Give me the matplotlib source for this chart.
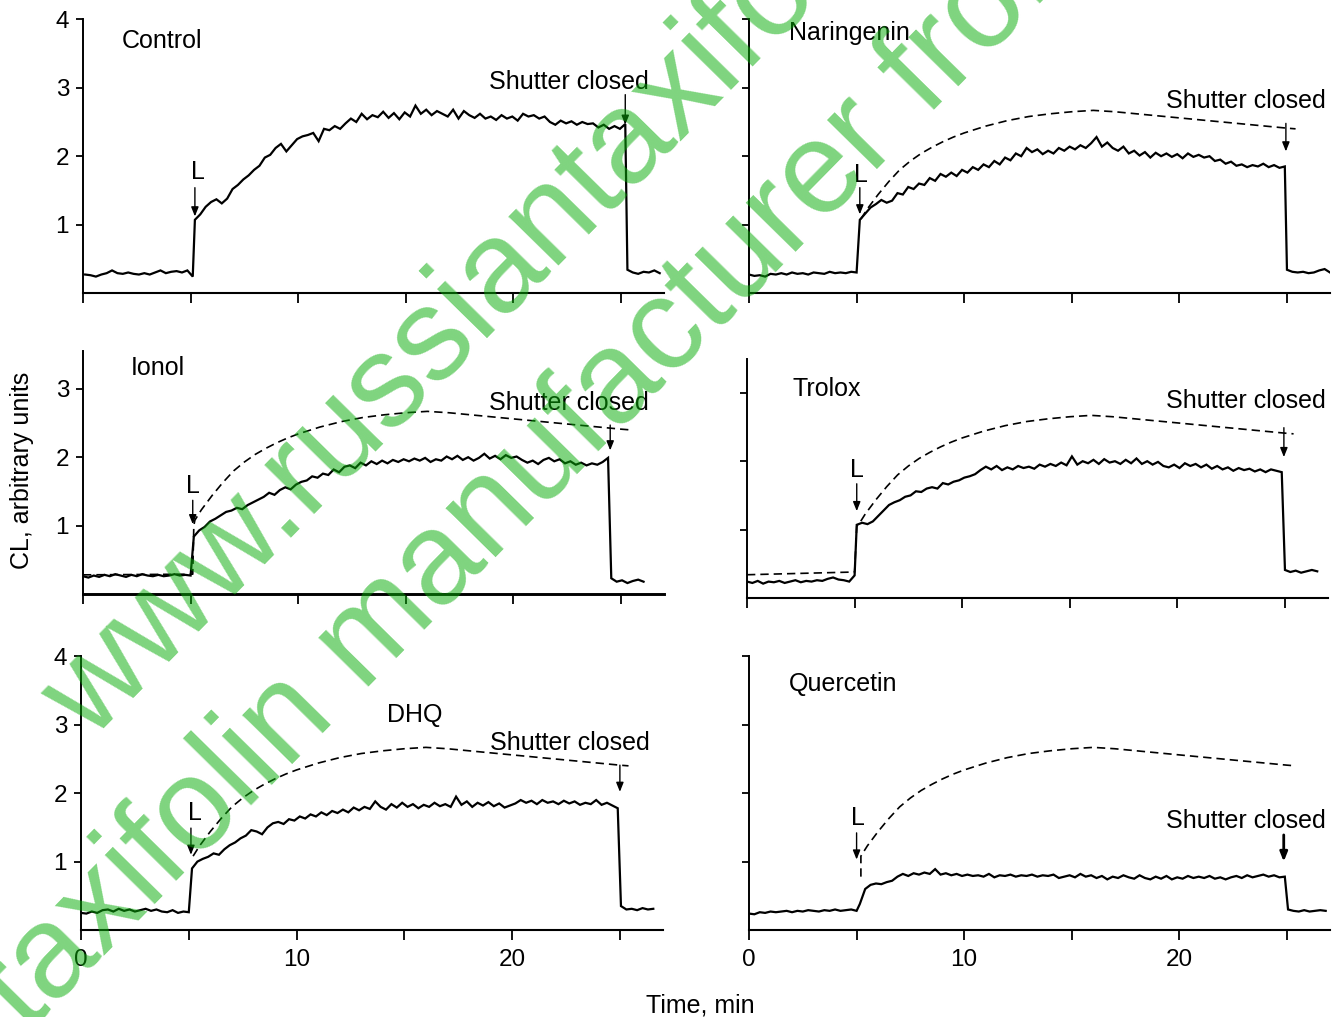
import numpy as np
import matplotlib
matplotlib.use("Agg")
import matplotlib.pyplot as plt

plt.rcParams['font.family'] = ['Liberation Sans', 'DejaVu Sans']

STEP = 0.25  # sampling interval of the read-off traces, min

# ---------------- data (CL, arbitrary units) ----------------
CONTROL_PRE = [0.27, 0.26, 0.24, 0.27, 0.29, 0.33, 0.29, 0.28, 0.30, 0.28, 0.27,
               0.29, 0.27, 0.30, 0.33, 0.29, 0.31, 0.32, 0.30, 0.33, 0.24]
CONTROL_ON = [1.07, 1.15, 1.26, 1.33, 1.37, 1.31, 1.38, 1.52, 1.58, 1.66, 1.72, 1.80,
              1.86, 1.98, 2.02, 2.12, 2.18, 2.07, 2.16, 2.25, 2.29, 2.31, 2.34, 2.22,
              2.40, 2.38, 2.44, 2.40, 2.48, 2.55, 2.50, 2.62, 2.54, 2.60, 2.57, 2.65,
              2.56, 2.63, 2.54, 2.64, 2.58, 2.74, 2.62, 2.68, 2.60, 2.66, 2.62, 2.58,
              2.68, 2.55, 2.66, 2.60, 2.56, 2.62, 2.55, 2.58, 2.53, 2.60, 2.55, 2.58,
              2.52, 2.62, 2.58, 2.60, 2.55, 2.58, 2.50, 2.46, 2.52, 2.48, 2.51, 2.46,
              2.50, 2.47, 2.48, 2.42, 2.46, 2.40, 2.44, 2.40, 2.47]
CONTROL_POST = [0.34, 0.30, 0.28, 0.31, 0.30, 0.33, 0.29]

NARINGENIN_PRE = [0.27, 0.25, 0.26, 0.24, 0.28, 0.27, 0.29, 0.27, 0.30, 0.28, 0.29,
                  0.27, 0.30, 0.29, 0.28, 0.31, 0.29, 0.30, 0.29, 0.31, 0.30]
NARINGENIN_ON = [1.07, 1.16, 1.25, 1.30, 1.36, 1.32, 1.35, 1.46, 1.44, 1.55, 1.52, 1.60,
                 1.58, 1.68, 1.64, 1.74, 1.70, 1.76, 1.71, 1.80, 1.76, 1.84, 1.80, 1.88,
                 1.84, 1.93, 1.88, 1.98, 1.94, 2.04, 2.00, 2.12, 2.06, 2.10, 2.03, 2.08,
                 2.04, 2.12, 2.08, 2.14, 2.10, 2.16, 2.12, 2.19, 2.28, 2.14, 2.20, 2.12,
                 2.08, 2.14, 2.04, 2.08, 2.01, 2.06, 1.98, 2.05, 2.00, 2.04, 1.99, 2.03,
                 1.97, 2.04, 1.99, 2.02, 1.98, 2.00, 1.93, 1.95, 1.89, 1.92, 1.86, 1.88,
                 1.84, 1.87, 1.85, 1.89, 1.84, 1.87, 1.83, 1.85]
NARINGENIN_POST = [0.34, 0.31, 0.30, 0.31, 0.29, 0.30, 0.33, 0.35, 0.30]

IONOL_PRE = [0.26, 0.24, 0.27, 0.25, 0.28, 0.26, 0.29, 0.27, 0.25, 0.28, 0.26,
             0.29, 0.27, 0.26, 0.28, 0.26, 0.27, 0.29, 0.27, 0.28, 0.27]
IONOL_ON = [0.84, 0.93, 0.98, 1.06, 1.10, 1.15, 1.20, 1.22, 1.26, 1.24, 1.30, 1.34,
            1.38, 1.42, 1.48, 1.45, 1.52, 1.56, 1.53, 1.60, 1.64, 1.66, 1.72, 1.70,
            1.76, 1.74, 1.82, 1.78, 1.86, 1.88, 1.84, 1.92, 1.88, 1.94, 1.90, 1.95,
            1.91, 1.96, 1.93, 1.97, 1.94, 1.98, 1.95, 1.99, 1.93, 1.97, 1.95, 2.01,
            1.97, 2.02, 1.96, 2.00, 1.95, 1.99, 2.05, 1.98, 2.02, 1.97, 2.03, 1.99,
            2.01, 1.96, 1.92, 1.95, 1.90, 1.96, 1.99, 1.94, 1.97, 1.91, 1.94, 1.89,
            1.92, 1.88, 1.91, 1.89, 1.93, 1.99]
IONOL_POST = [0.23, 0.18, 0.20, 0.16, 0.19, 0.21, 0.18]

TROLOX_PRE = [0.24, 0.22, 0.25, 0.21, 0.24, 0.23, 0.25, 0.22, 0.24, 0.26, 0.23,
              0.25, 0.24, 0.26, 0.25, 0.28, 0.30, 0.27, 0.26, 0.24, 0.33]
TROLOX_ON = [1.07, 1.10, 1.08, 1.12, 1.20, 1.28, 1.36, 1.40, 1.43, 1.48, 1.50, 1.56,
             1.55, 1.60, 1.62, 1.60, 1.68, 1.66, 1.70, 1.72, 1.76, 1.78, 1.81, 1.87,
             1.92, 1.88, 1.93, 1.87, 1.91, 1.88, 1.93, 1.90, 1.92, 1.89, 1.95, 1.92,
             1.96, 1.93, 1.98, 1.94, 2.07, 1.95, 2.00, 1.97, 2.02, 1.96, 2.03, 1.98,
             2.00, 1.96, 2.02, 1.97, 2.04, 1.96, 2.00, 1.95, 1.99, 1.93, 1.91, 1.95,
             1.90, 1.97, 1.93, 1.96, 1.91, 1.95, 1.89, 1.93, 1.88, 1.91, 1.86, 1.90,
             1.87, 1.89, 1.85, 1.88, 1.84, 1.88, 1.86, 1.84]
TROLOX_POST = [0.41, 0.38, 0.40, 0.37, 0.39, 0.41, 0.39]

DHQ_PRE = [0.25, 0.24, 0.27, 0.25, 0.29, 0.30, 0.27, 0.31, 0.28, 0.30, 0.27,
           0.29, 0.31, 0.28, 0.30, 0.27, 0.26, 0.29, 0.25, 0.27, 0.26]
DHQ_ON = [0.90, 1.00, 1.04, 1.07, 1.12, 1.10, 1.18, 1.24, 1.28, 1.34, 1.38, 1.46,
          1.44, 1.40, 1.50, 1.56, 1.58, 1.55, 1.62, 1.60, 1.66, 1.63, 1.69, 1.66,
          1.72, 1.68, 1.74, 1.71, 1.76, 1.72, 1.79, 1.75, 1.80, 1.77, 1.88, 1.80,
          1.76, 1.84, 1.79, 1.86, 1.80, 1.84, 1.78, 1.83, 1.80, 1.86, 1.81, 1.84,
          1.80, 1.95, 1.83, 1.88, 1.80, 1.86, 1.82, 1.87, 1.81, 1.85, 1.79, 1.82,
          1.85, 1.90, 1.86, 1.89, 1.84, 1.90, 1.86, 1.88, 1.84, 1.89, 1.85, 1.88,
          1.83, 1.86, 1.84, 1.90, 1.83, 1.86, 1.82, 1.78]
DHQ_POST = [0.35, 0.30, 0.31, 0.29, 0.32, 0.30, 0.31]

QUERCETIN_PRE = [0.24, 0.23, 0.26, 0.25, 0.27, 0.26, 0.27, 0.28, 0.26, 0.28, 0.27,
                 0.29, 0.28, 0.27, 0.29, 0.28, 0.30, 0.28, 0.29, 0.30, 0.28]
QUERCETIN_ON = [0.38, 0.60, 0.66, 0.68, 0.67, 0.70, 0.72, 0.78, 0.82, 0.79, 0.83, 0.81,
                0.84, 0.82, 0.89, 0.81, 0.83, 0.80, 0.82, 0.79, 0.81, 0.79, 0.80, 0.78,
                0.82, 0.77, 0.80, 0.79, 0.81, 0.78, 0.80, 0.79, 0.81, 0.78, 0.80, 0.79,
                0.81, 0.76, 0.78, 0.80, 0.77, 0.82, 0.78, 0.80, 0.76, 0.79, 0.74, 0.78,
                0.76, 0.80, 0.77, 0.75, 0.80, 0.76, 0.74, 0.78, 0.75, 0.79, 0.74, 0.77,
                0.75, 0.79, 0.76, 0.78, 0.76, 0.79, 0.75, 0.77, 0.74, 0.77, 0.79, 0.76,
                0.80, 0.77, 0.79, 0.81, 0.78, 0.80, 0.77, 0.78]
QUERCETIN_POST = [0.30, 0.28, 0.27, 0.29, 0.27, 0.28, 0.29, 0.28]

# dashed line: control kinetics redrawn in the other panels
DASH_T = [5.2, 5.5, 6.0, 6.5, 7.0, 7.5, 8.0, 8.5, 9.0, 9.5, 10.0, 11.0, 12.0, 13.0,
          14.0, 15.0, 16.0, 17.0, 18.0, 19.0, 20.0, 21.0, 22.0, 23.0, 24.0, 25.0, 25.4]
DASH_Y = [1.08, 1.23, 1.44, 1.63, 1.80, 1.93, 2.04, 2.13, 2.21, 2.28, 2.34, 2.44,
          2.52, 2.58, 2.62, 2.65, 2.67, 2.65, 2.62, 2.59, 2.56, 2.53, 2.50, 2.47,
          2.44, 2.41, 2.40]
IONOL_DASH_PRE_T = [0.0, 5.1, 5.15]
IONOL_DASH_PRE_Y = [0.28, 0.29, 1.00]
TROLOX_DASH_PRE_T = [0.0, 5.0, 5.1]
TROLOX_DASH_PRE_Y = [0.34, 0.38, 1.05]
QUERCETIN_DASH_PRE_T = [5.2]
QUERCETIN_DASH_PRE_Y = [0.78]

PANEL_NAMES = ["Control", "Naringenin", "Ionol", "Trolox", "DHQ", "Quercetin"]
X_TICKS = [0, 5, 10, 15, 20, 25]
X_TICK_LABELS = ["0", "", "10", "", "20", ""]

# ---------------- layout ----------------
W, H = 1340, 1017
PPU = 68.4   # pixels per CL unit
XMAX = 27.0

fig = plt.figure(figsize=(W / 100, H / 100), dpi=100)


def trace(t_pre, pre, t_on, on, t_post, post):
    t = np.concatenate([t_pre + STEP * np.arange(len(pre)),
                        t_on + STEP * np.arange(len(on)),
                        t_post + STEP * np.arange(len(post))])
    y = np.concatenate([pre, on, post])
    return t, y


panels = [
    dict(name="Control", px=(83, 293, 581), ymax=4.0, yt=[1, 2, 3, 4], ylab=True, xlab=False,
         solid=trace(0.1, CONTROL_PRE, 5.2, CONTROL_ON, 25.3, CONTROL_POST),
         dash=None, title_xy=(1.8, 3.69),
         L=(5.33, 1.77, 5.2, 1.54, 1.12), S=(22.6, 3.09, 25.2, 2.90, 2.46, 1.0)),
    dict(name="Naringenin", px=(749, 293, 581), ymax=4.0, yt=[1, 2, 3, 4], ylab=False, xlab=False,
         solid=trace(0.0, NARINGENIN_PRE, 5.15, NARINGENIN_ON, 25.0, NARINGENIN_POST),
         dash=([], []), title_xy=(1.86, 3.8),
         L=(5.2, 1.73, 5.15, 1.54, 1.15), S=(23.1, 2.81, 24.95, 2.48, 2.07, 1.0)),
    dict(name="Ionol", px=(83, 594, 581), ymax=3.55, yt=[1, 2, 3], ylab=True, xlab=False,
         solid=trace(0.0, IONOL_PRE, 5.15, IONOL_ON, 24.55, IONOL_POST),
         dash=(IONOL_DASH_PRE_T, IONOL_DASH_PRE_Y), title_xy=(2.2, 3.31),
         L=(5.1, 1.58, 5.1, 1.37, 1.02), S=(22.6, 2.79, 24.5, 2.47, 2.10, 1.0),
         thick_x=True),
    dict(name="Trolox", px=(747, 598, 581), ymax=3.5, yt=[1, 2, 3], ylab=False, xlab=False,
         solid=trace(0.0, TROLOX_PRE, 5.1, TROLOX_ON, 25.0, TROLOX_POST),
         dash=(TROLOX_DASH_PRE_T, TROLOX_DASH_PRE_Y), title_xy=(2.1, 3.06),
         L=(5.1, 1.87, 5.1, 1.67, 1.27), S=(23.2, 2.88, 24.95, 2.49, 2.06, 1.0)),
    dict(name="DHQ", px=(81, 930, 582), ymax=4.0, yt=[1, 2, 3, 4], ylab=True, xlab=True,
         solid=trace(0.0, DHQ_PRE, 5.15, DHQ_ON, 25.05, DHQ_POST),
         dash=([], []), title_xy=(14.2, 3.14),
         L=(5.29, 1.71, 5.1, 1.49, 1.10), S=(22.7, 2.73, 25.0, 2.41, 2.02, 1.0)),
    dict(name="Quercetin", px=(749, 930, 581), ymax=4.0, yt=[1, 2, 3, 4], ylab=False, xlab=True,
         solid=trace(0.0, QUERCETIN_PRE, 5.15, QUERCETIN_ON, 25.05, QUERCETIN_POST),
         dash=(QUERCETIN_DASH_PRE_T, QUERCETIN_DASH_PRE_Y), title_xy=(1.86, 3.6),
         L=(5.06, 1.64, 5.0, 1.42, 1.03), S=(23.1, 1.59, 24.85, 1.39, 1.00, 2.0)),
]

FS = 18
for p in panels:
    x0, y0, wpx = p["px"]
    hpx = p["ymax"] * PPU
    ax = fig.add_axes([x0 / W, 1 - y0 / H, wpx / W, hpx / H])
    ax.set_xlim(0, XMAX)
    ax.set_ylim(0, p["ymax"])
    for s in ("top", "right"):
        ax.spines[s].set_visible(False)
    ax.spines["left"].set_linewidth(1.4)
    ax.spines["bottom"].set_linewidth(2.1 if p.get("thick_x") else 1.5)
    ax.set_xticks(X_TICKS)
    ax.set_xticklabels(X_TICK_LABELS if p["xlab"] else [""] * len(X_TICKS))
    ax.set_yticks(p["yt"])
    ax.set_yticklabels([str(v) for v in p["yt"]] if p["ylab"] else [""] * len(p["yt"]))
    ax.tick_params(axis="both", direction="out", width=1.3, labelsize=17.5, colors="black")
    ax.tick_params(axis="x", length=7, pad=7)
    ax.tick_params(axis="y", length=5, pad=5)
    ax.patch.set_alpha(0)

    if p["dash"] is not None:
        dt = list(p["dash"][0]) + DASH_T
        dy = list(p["dash"][1]) + DASH_Y
        ax.plot(dt, dy, color="black", lw=1.2, dashes=(5, 3), zorder=2)

    t, y = p["solid"]
    ax.plot(t, y, color="black", lw=1.6, zorder=3, solid_joinstyle="miter")

    ax.text(p["title_xy"][0], p["title_xy"][1], p["name"], fontsize=FS,
            ha="left", va="center")

    lx, ly, ax_x, a0, a1 = p["L"]
    ax.text(lx, ly, "L", fontsize=FS, ha="center", va="center")
    ax.annotate("", xy=(ax_x, a1), xytext=(ax_x, a0),
                arrowprops=dict(arrowstyle="-|>,head_length=0.55,head_width=0.22",
                                color="black", lw=1.0, shrinkA=0, shrinkB=0))
    sx, sy, sax, s0, s1, slw = p["S"]
    ax.text(sx, sy, "Shutter closed", fontsize=FS, ha="center", va="center")
    ax.annotate("", xy=(sax, s1), xytext=(sax, s0),
                arrowprops=dict(arrowstyle="-|>,head_length=0.55,head_width=0.22",
                                color="black", lw=slw, shrinkA=0, shrinkB=0))

fig.text(700 / W, 1 - 1005 / H, "Time, min", fontsize=FS, ha="center", va="center")
fig.text(22 / W, 1 - 470 / H, "CL, arbitrary units", fontsize=FS, ha="center",
         va="center", rotation=90)

# watermark
ang = 45.5
wm = dict(fontsize=94, color=(0.03, 0.68, 0.03), alpha=0.52, rotation=ang,
          rotation_mode="anchor", ha="left", va="baseline", zorder=10)
fig.text(90 / W, 1 - 742 / H, "www.russiantaxifolin.com", **wm)
c, s = np.cos(np.radians(ang)), np.sin(np.radians(ang))
back = 6.891 * 131
fig.text((365 - back * c) / W, 1 - (690 + back * s) / H,
         "russiantaxifolin manufacturer from Russia", **wm)

fig.savefig("out.png", dpi=100)
